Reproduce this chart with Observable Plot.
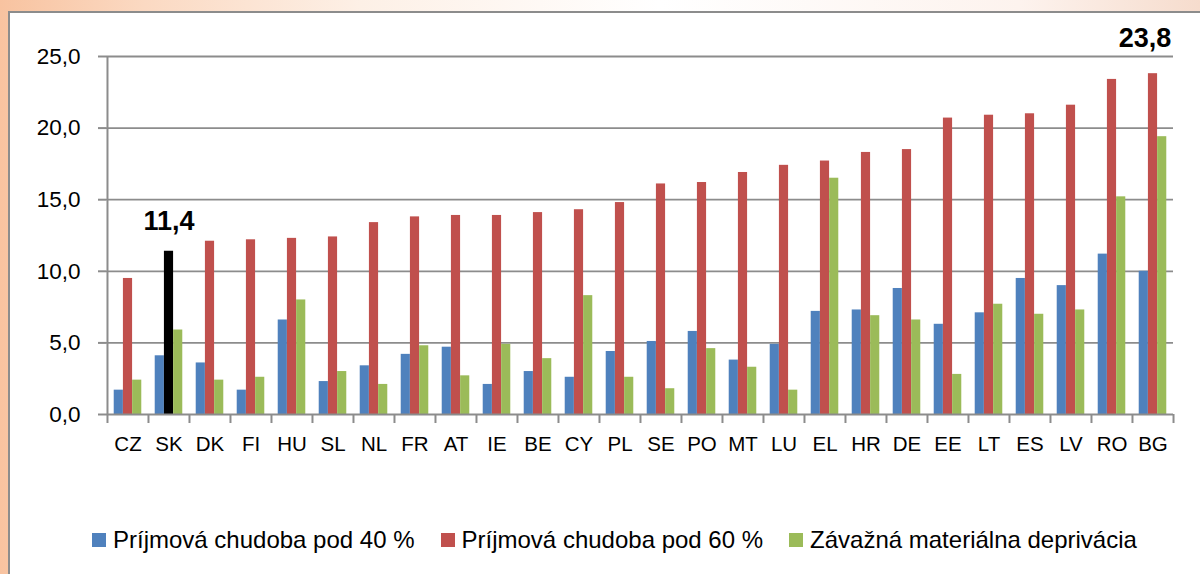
<!DOCTYPE html>
<html>
<head>
<meta charset="utf-8">
<script src="https://cdn.jsdelivr.net/npm/d3@7"></script>
<script src="https://cdn.jsdelivr.net/npm/@observablehq/plot@0.6"></script>
<style>
  html, body { margin: 0; padding: 0; }
  body {
    width: 1200px; height: 574px; overflow: hidden; position: relative;
    background: linear-gradient(to right, #f8c3a0 0%, #fbd9c2 12%, #fdf0e6 30%, #ffffff 55%, #fdf3ee 85%, #f6dccd 100%);
    font-family: "Liberation Sans", Arial, sans-serif;
  }
  #box {
    position: absolute; left: 8px; top: 11px; width: 1200px; height: 600px;
    background: #ffffff; border: 2px solid #8c8c8c; box-sizing: border-box;
  }
  #chart { position: absolute; left: 0; top: 0; }
  #legend {
    position: absolute; left: 92px; top: 526px; display: flex; align-items: center;
    font-size: 24px; color: #000; white-space: nowrap;
  }
  #legend .item { display: flex; align-items: center; margin-right: 26px; }
  #legend .sw { width: 14px; height: 14px; margin-right: 7px; }
</style>
</head>
<body>
<div id="box"></div>
<div id="chart"></div>
<div id="legend"></div>
<script>
const countries = ["CZ","SK","DK","FI","HU","SL","NL","FR","AT","IE","BE","CY","PL","SE","PO","MT","LU","EL","HR","DE","EE","LT","ES","LV","RO","BG"];
const below40 = [1.7,4.1,3.6,1.7,6.6,2.3,3.4,4.2,4.7,2.1,3.0,2.6,4.4,5.1,5.8,3.8,4.9,7.2,7.3,8.8,6.3,7.1,9.5,9.0,11.2,10.0];
const below60 = [9.5,11.4,12.1,12.2,12.3,12.4,13.4,13.8,13.9,13.9,14.1,14.3,14.8,16.1,16.2,16.9,17.4,17.7,18.3,18.5,20.7,20.9,21.0,21.6,23.4,23.8];
const deprivation = [2.4,5.9,2.4,2.6,8.0,3.0,2.1,4.8,2.7,4.9,3.9,8.3,2.6,1.8,4.6,3.3,1.7,16.5,6.9,6.6,2.8,7.7,7.0,7.3,15.2,19.4];
const seriesNames = ["Príjmová chudoba pod 40 %", "Príjmová chudoba pod 60 %", "Závažná materiálna deprivácia"];
const seriesColors = ["#4f81bd", "#c0504d", "#9bbb59"];
const highlightColor = "#000000";
const highlighted = ["SK", "BG"];
const yTicks = [0, 5, 10, 15, 20, 25];

const W = 1200, H = 470;
const mL = 106, mR = 27, mT = 56, mB = 56;
const band = (W - mL - mR) / countries.length;
const barW = 9.2;
const outer = (band - 3 * barW) / 2;

const rows = countries.map((c, i) => ({country: c, b40: below40[i], b60: below60[i], dep: deprivation[i]}));
const labels = rows.filter(d => highlighted.includes(d.country));
const fmt = v => v.toFixed(1).replace(".", ",");
const gridColor = "#8c8c8c";

const chart = Plot.plot({
  width: W, height: H,
  marginLeft: mL, marginRight: mR, marginTop: mT, marginBottom: mB,
  style: {background: "transparent", fontFamily: "Liberation Sans, Arial, sans-serif", color: "#000", overflow: "visible"},
  x: {domain: countries, padding: 0},
  y: {domain: [0, 25]},
  marks: [
    Plot.ruleY(yTicks.slice(1), {stroke: gridColor, strokeWidth: 1.8}),
    Plot.barY(rows, {x: "country", y: "b40", fill: seriesColors[0], insetLeft: outer, insetRight: outer + 2 * barW}),
    Plot.barY(rows, {x: "country", y: "b60", fill: d => highlighted[0] === d.country ? highlightColor : seriesColors[1], insetLeft: outer + barW, insetRight: outer + barW}),
    Plot.barY(rows, {x: "country", y: "dep", fill: seriesColors[2], insetLeft: outer + 2 * barW, insetRight: outer}),
    Plot.ruleY([0], {stroke: gridColor, strokeWidth: 2}),
    Plot.ruleX([countries[0]], {stroke: gridColor, strokeWidth: 2, dx: -band / 2}),
    Plot.ruleX(countries, {x: d => d, y1: 0, y2: 0, insetBottom: -9, stroke: gridColor, strokeWidth: 2, dx: -band / 2}),
    Plot.ruleX([countries[countries.length - 1]], {y1: 0, y2: 0, insetBottom: -9, stroke: gridColor, strokeWidth: 2, dx: band / 2}),
    Plot.axisY({ticks: yTicks, tickFormat: fmt, tickSize: 8, tickPadding: 18, fontSize: 22.5, stroke: gridColor, strokeWidth: 2, label: null}),
    Plot.axisX({tickSize: 0, tickPadding: 22, fontSize: 20.5, label: null}),
    Plot.text(labels.slice(0, 1), {x: "country", y: "b60", text: d => fmt(d.b60), dy: -30, fontSize: 27, fontWeight: "bold", fill: "#000"}),
    Plot.text(labels.slice(1), {x: "country", y: "b60", text: d => fmt(d.b60), dy: -35, dx: -8, fontSize: 27, fontWeight: "bold", fill: "#000"})
  ]
});
document.getElementById("chart").appendChild(chart);

const legend = document.getElementById("legend");
seriesNames.forEach((name, i) => {
  const item = document.createElement("div");
  item.className = "item";
  const sw = document.createElement("span");
  sw.className = "sw";
  sw.style.background = seriesColors[i];
  const t = document.createElement("span");
  t.textContent = name;
  item.appendChild(sw); item.appendChild(t);
  legend.appendChild(item);
});
</script>
</body>
</html>
